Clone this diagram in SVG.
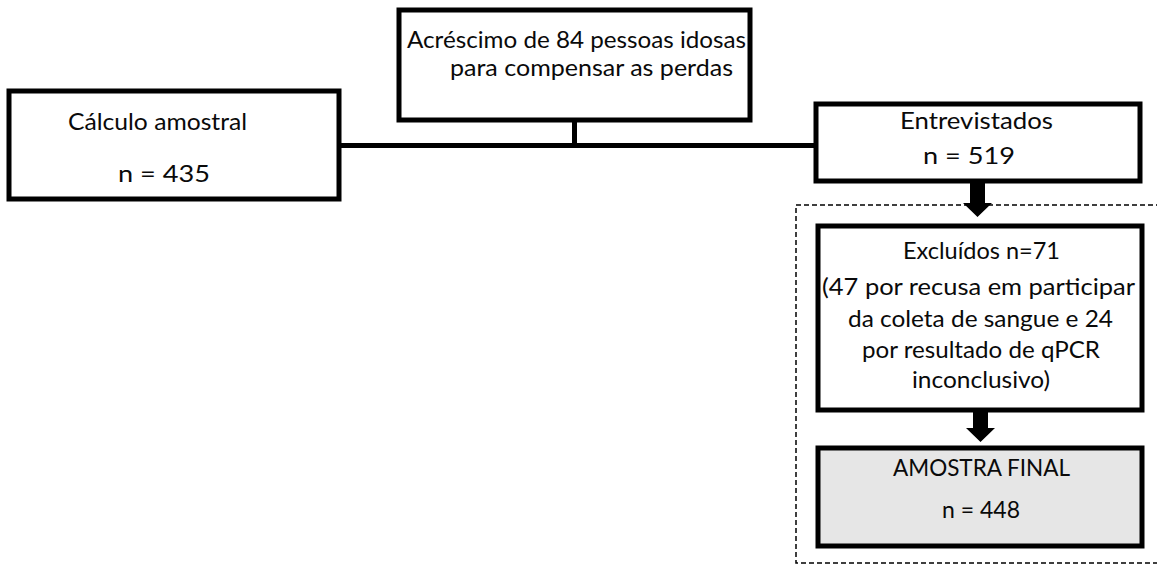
<svg xmlns="http://www.w3.org/2000/svg" width="1157" height="565" viewBox="0 0 1157 565">
<style>
.box{fill:#fff;stroke:#000;stroke-width:5}
.final{fill:#e6e6e6;stroke:#000;stroke-width:5}
.t{font-family:Lato,"Open Sans","Liberation Sans",sans-serif;font-size:24px;fill:#0a0a0a}
.line{fill:none;stroke:#000;stroke-width:5}
.dash{fill:none;stroke:#000;stroke-width:1.5;stroke-dasharray:5,3}
</style>
<rect width="1157" height="565" fill="#fff"/>
<rect id="group-box" class="dash" x="796" y="205" width="370" height="358"/>
<g id="connectors">
<path class="line" d="M339 145.5H816M574.5 120V145.5"/>
<path d="M970 181H985V203H992L977.5 217L963 203H970Z" fill="#000"/>
<path d="M973 410H988V428H995L980.5 442L966 428H973Z" fill="#000"/>
</g>
<g id="calculo">
<rect class="box" x="9" y="91" width="330" height="108"/>
<text class="t" x="68" y="130" textLength="179" lengthAdjust="spacingAndGlyphs">Cálculo amostral</text>
<text class="t" x="118" y="182" textLength="92" lengthAdjust="spacingAndGlyphs">n = 435</text>
</g>
<g id="acrescimo">
<rect class="box" x="399" y="10" width="351" height="110"/>
<text class="t" x="407" y="48" textLength="339" lengthAdjust="spacingAndGlyphs">Acréscimo de 84 pessoas idosas</text>
<text class="t" x="450" y="76" textLength="283" lengthAdjust="spacingAndGlyphs">para compensar as perdas</text>
</g>
<g id="entrevistados">
<rect class="box" x="816" y="104" width="324" height="77"/>
<text class="t" x="900" y="129" textLength="153" lengthAdjust="spacingAndGlyphs">Entrevistados</text>
<text class="t" x="923" y="164" textLength="92" lengthAdjust="spacingAndGlyphs">n = 519</text>
</g>
<g id="excluidos">
<rect class="box" x="818" y="226" width="324" height="184"/>
<text class="t" x="903" y="259" textLength="157" lengthAdjust="spacingAndGlyphs">Excluídos n=71</text>
<text class="t" x="822" y="295" textLength="313" lengthAdjust="spacingAndGlyphs">(47 por recusa em participar</text>
<text class="t" x="848" y="327" textLength="265" lengthAdjust="spacingAndGlyphs">da coleta de sangue e 24</text>
<text class="t" x="862" y="358" textLength="238" lengthAdjust="spacingAndGlyphs">por resultado de qPCR</text>
<text class="t" x="912" y="388" textLength="138" lengthAdjust="spacingAndGlyphs">inconclusivo)</text>
</g>
<g id="amostra-final">
<rect class="final" x="818" y="448" width="324" height="98"/>
<text class="t" x="893" y="476" textLength="177" lengthAdjust="spacingAndGlyphs">AMOSTRA FINAL</text>
<text class="t" x="942" y="518" textLength="78" lengthAdjust="spacingAndGlyphs">n = 448</text>
</g>
</svg>
